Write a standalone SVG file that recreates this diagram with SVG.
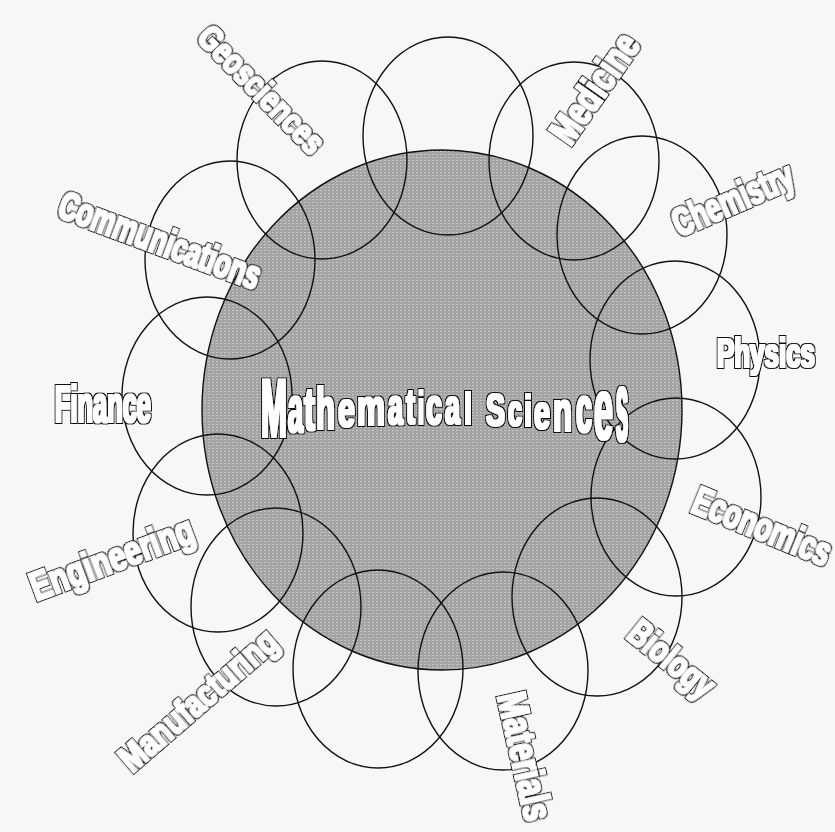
<svg xmlns="http://www.w3.org/2000/svg" width="835" height="832" viewBox="0 0 835 832">
<defs>
<pattern id="dither" width="4" height="3" patternUnits="userSpaceOnUse">
<rect width="4" height="3" fill="#a4a4a4"/>
<rect x="0" y="1" width="2" height="1" fill="#c6c6c6"/>
</pattern>
<filter id="outline" x="-10%" y="-20%" width="120%" height="140%">
<feMorphology in="SourceAlpha" operator="dilate" radius="2.1" result="outer"/>
<feFlood flood-color="#111111"/>
<feComposite in2="outer" operator="in" result="black"/>
<feMorphology in="SourceAlpha" operator="dilate" radius="0.6" result="inner"/>
<feFlood flood-color="#ffffff"/>
<feComposite in2="inner" operator="in" result="white"/>
<feMerge><feMergeNode in="black"/><feMergeNode in="white"/></feMerge>
</filter>
<style>
.ring{fill:none;stroke:#111;stroke-width:1.4}
.core{fill:url(#dither);stroke:#111;stroke-width:1.4}
.lbl{font-family:"Liberation Sans","Arial",sans-serif;font-weight:bold;fill:#000;filter:url(#outline)}
.ms{font-family:"Liberation Sans","Arial",sans-serif;font-weight:bold;fill:#000;filter:url(#outline)}
</style>
</defs>
<rect width="835" height="832" fill="#f7f7f7"/>

<g id="mathematical-sciences">
<ellipse class="core" cx="442" cy="410" rx="240" ry="260"/>
</g>

<g id="circle-top"><ellipse class="ring" cx="448" cy="136" rx="85" ry="99"/></g>
<g id="medicine"><ellipse class="ring" cx="574" cy="161" rx="85" ry="99"/></g>
<g id="chemistry"><ellipse class="ring" cx="642" cy="235" rx="85" ry="99"/></g>
<g id="physics"><ellipse class="ring" cx="675" cy="360" rx="85" ry="99"/></g>
<g id="economics"><ellipse class="ring" cx="676" cy="497" rx="85" ry="99"/></g>
<g id="biology"><ellipse class="ring" cx="597" cy="597" rx="85" ry="99"/></g>
<g id="materials"><ellipse class="ring" cx="503" cy="671" rx="85" ry="99"/></g>
<g id="circle-bottom"><ellipse class="ring" cx="378" cy="669" rx="85" ry="99"/></g>
<g id="manufacturing"><ellipse class="ring" cx="276" cy="607" rx="85" ry="99"/></g>
<g id="engineering"><ellipse class="ring" cx="218" cy="533" rx="85" ry="99"/></g>
<g id="finance"><ellipse class="ring" cx="207" cy="396" rx="85" ry="99"/></g>
<g id="communications"><ellipse class="ring" cx="230" cy="260" rx="85" ry="99"/></g>
<g id="geosciences"><ellipse class="ring" cx="322" cy="160" rx="85" ry="99"/></g>

<g id="labels">
<text class="lbl" transform="translate(260,91) rotate(45.5)" x="0" y="10" font-size="35" text-anchor="middle" textLength="164" lengthAdjust="spacingAndGlyphs">Geosciences</text>
<text class="lbl" transform="translate(159,243) rotate(20.3)" x="0" y="11" font-size="40" text-anchor="middle" textLength="212" lengthAdjust="spacingAndGlyphs">Communications</text>
<text class="lbl" x="55" y="422" font-size="52" textLength="96" lengthAdjust="spacingAndGlyphs">Finance</text>
<text class="lbl" transform="translate(113,561) rotate(-20.4)" x="0" y="11" font-size="40" text-anchor="middle" textLength="172" lengthAdjust="spacingAndGlyphs">Engineering</text>
<text class="lbl" transform="translate(200,702) rotate(-40.8)" x="0" y="10" font-size="37" text-anchor="middle" textLength="196" lengthAdjust="spacingAndGlyphs">Manufacturing</text>
<text class="lbl" transform="translate(522,757) rotate(77.4)" x="0" y="11" font-size="40" text-anchor="middle" textLength="130" lengthAdjust="spacingAndGlyphs">Materials</text>
<text class="lbl" transform="translate(670,661) rotate(39)" x="0" y="10" font-size="36" text-anchor="middle" textLength="100" lengthAdjust="spacingAndGlyphs">Biology</text>
<text class="lbl" transform="translate(761,529) rotate(22.3)" x="0" y="11" font-size="40" text-anchor="middle" textLength="146" lengthAdjust="spacingAndGlyphs">Economics</text>
<text class="lbl" x="717" y="367" font-size="40" textLength="98" lengthAdjust="spacingAndGlyphs">Physics</text>
<text class="lbl" transform="translate(734,202) rotate(-23.5)" x="0" y="11" font-size="40" text-anchor="middle" textLength="128" lengthAdjust="spacingAndGlyphs">Chemistry</text>
<text class="lbl" transform="translate(597,90) rotate(-55)" x="0" y="11" font-size="40" text-anchor="middle" textLength="124" lengthAdjust="spacingAndGlyphs">Medicine</text>
</g>

<g id="mathematical-sciences-label">
<text class="ms"><tspan x="261" y="437" font-size="84" textLength="26" lengthAdjust="spacingAndGlyphs">M</tspan><tspan x="288" y="432" font-size="67" textLength="15" lengthAdjust="spacingAndGlyphs">a</tspan><tspan x="304" y="430" font-size="62" textLength="11" lengthAdjust="spacingAndGlyphs">t</tspan><tspan x="316" y="429" font-size="60" textLength="19" lengthAdjust="spacingAndGlyphs">h</tspan><tspan x="338" y="427" font-size="50" textLength="17" lengthAdjust="spacingAndGlyphs">e</tspan><tspan x="357" y="425" font-size="52" textLength="28" lengthAdjust="spacingAndGlyphs">m</tspan><tspan x="388" y="424" font-size="52" textLength="15" lengthAdjust="spacingAndGlyphs">a</tspan><tspan x="406" y="424" font-size="50" textLength="9" lengthAdjust="spacingAndGlyphs">t</tspan><tspan x="418" y="424" font-size="46" textLength="6" lengthAdjust="spacingAndGlyphs">i</tspan><tspan x="426" y="424" font-size="52" textLength="16" lengthAdjust="spacingAndGlyphs">c</tspan><tspan x="445" y="424" font-size="50" textLength="15" lengthAdjust="spacingAndGlyphs">a</tspan><tspan x="464" y="424" font-size="45" textLength="8" lengthAdjust="spacingAndGlyphs">l</tspan><tspan x="472" y="424" font-size="20" textLength="10" lengthAdjust="spacingAndGlyphs"> </tspan><tspan x="486" y="426" font-size="46" textLength="19" lengthAdjust="spacingAndGlyphs">S</tspan><tspan x="508" y="426" font-size="44" textLength="14" lengthAdjust="spacingAndGlyphs">c</tspan><tspan x="524" y="426" font-size="45" textLength="8" lengthAdjust="spacingAndGlyphs">i</tspan><tspan x="534" y="429" font-size="48" textLength="16" lengthAdjust="spacingAndGlyphs">e</tspan><tspan x="553" y="431" font-size="58" textLength="19" lengthAdjust="spacingAndGlyphs">n</tspan><tspan x="576" y="432" font-size="66" textLength="16" lengthAdjust="spacingAndGlyphs">c</tspan><tspan x="594" y="439" font-size="87" textLength="19" lengthAdjust="spacingAndGlyphs">e</tspan><tspan x="616" y="441" font-size="100" textLength="12" lengthAdjust="spacingAndGlyphs">s</tspan></text>
</g>
</svg>
